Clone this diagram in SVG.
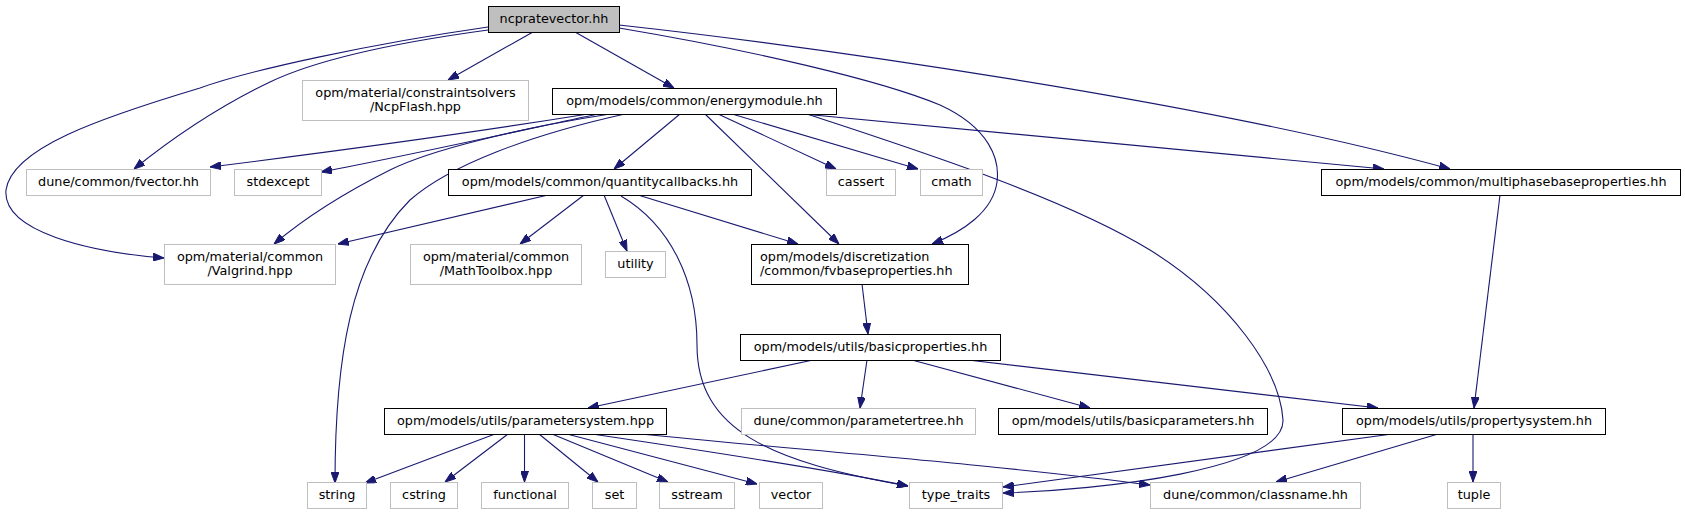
<svg xmlns="http://www.w3.org/2000/svg" width="1685" height="515" viewBox="0 0 1685 515">
<style>
rect{fill:#fff;stroke:#000;stroke-width:1}
.x rect{stroke:#bfbfbf}
.r rect{fill:#bfbfbf}
text{font-family:"DejaVu Sans","Liberation Sans",sans-serif;font-size:12.8px;text-anchor:middle;fill:#000}
text.l{text-anchor:start}
#edges path{fill:none;stroke:#191970;stroke-width:1.1;marker-end:url(#a)}
</style>
<defs>
<marker id="a" markerWidth="11" markerHeight="8" refX="11" refY="4" orient="auto" markerUnits="userSpaceOnUse"><path d="M0,0 L11,4 L0,8 z" fill="#191970" stroke="#191970" stroke-width="1"/></marker>
</defs>
<rect x="0" y="0" width="1685" height="515" style="fill:#fff;stroke:none"/>
<g id="edges">
<path d="M488,30 C400,42 320,58 270,82 C220,106 170,140 134,169"/>
<path d="M488,27 C370,44 250,70 200,88 C100,118 12,148 6,190 C2,232 90,252 164,258"/>
<path d="M533,32 L448,80"/>
<path d="M575,32 L674,88"/>
<path d="M619,28 C750,50 880,80 940,105 C990,128 1000,160 997,182 C993,212 962,232 932,244"/>
<path d="M619,25 C800,45 1200,100 1450,169"/>
<path d="M588,114 C470,133 330,152 210,167"/>
<path d="M598,114 C500,135 410,155 321,172"/>
<path d="M610,114 C520,128 430,150 390,170 C340,195 300,222 274,244"/>
<path d="M625,114 C530,135 450,165 410,200 C350,260 335,360 335,483"/>
<path d="M680,114 L614,169"/>
<path d="M705,114 L839,244"/>
<path d="M718,114 L836,169"/>
<path d="M732,114 L918,169"/>
<path d="M803,114 L1384,169"/>
<path d="M807,114 C900,145 1060,195 1150,250 C1230,300 1280,370 1283,420 C1285,470 1100,490 1003,493"/>
<path d="M548,195 L338,244"/>
<path d="M584,195 L520,244"/>
<path d="M604,195 L627,251"/>
<path d="M638,195 L798,244"/>
<path d="M621,196 C670,225 697,280 697,345 C697,430 770,462 908,486"/>
<path d="M862,284 L868,334"/>
<path d="M813,360 L588,408"/>
<path d="M867,360 L860,408"/>
<path d="M912,360 L1090,408"/>
<path d="M968,360 L1378,408"/>
<path d="M1500,195 L1474,408"/>
<path d="M495,434 L365,483"/>
<path d="M508,434 L445,482"/>
<path d="M524.5,434 L524.5,482"/>
<path d="M539,434 L598,482"/>
<path d="M552,434 L668,482"/>
<path d="M567,434 L757,484"/>
<path d="M592,434 C700,450 820,468 908,486"/>
<path d="M640,434 C800,450 1000,465 1150,485"/>
<path d="M1392,434 L1003,487"/>
<path d="M1438,434 L1276,482"/>
<path d="M1473,434 L1473,482"/>
</g>
<g id="n1" class="r"><rect x="488.5" y="6.5" width="131" height="26"/><text x="554" y="23">ncpratevector.hh</text></g>
<g id="n2" class="x"><rect x="302.5" y="80.5" width="226" height="40"/><text x="415.5" y="96.5">opm/material/constraintsolvers</text><text x="415.5" y="110.5">/NcpFlash.hpp</text></g>
<g id="n3"><rect x="552.5" y="88.5" width="284" height="26"/><text x="694.5" y="105">opm/models/common/energymodule.hh</text></g>
<g id="n4" class="x"><rect x="26.5" y="169.5" width="184" height="26"/><text x="118.5" y="186">dune/common/fvector.hh</text></g>
<g id="n5" class="x"><rect x="234.5" y="169.5" width="87" height="26"/><text x="278" y="186">stdexcept</text></g>
<g id="n6"><rect x="448.5" y="169.5" width="303" height="26"/><text x="600" y="186">opm/models/common/quantitycallbacks.hh</text></g>
<g id="n7" class="x"><rect x="826.5" y="169.5" width="69" height="26"/><text x="861" y="186">cassert</text></g>
<g id="n8" class="x"><rect x="920.5" y="169.5" width="62" height="26"/><text x="951.5" y="186">cmath</text></g>
<g id="n9"><rect x="1321.5" y="169.5" width="359" height="26"/><text x="1501" y="186">opm/models/common/multiphasebaseproperties.hh</text></g>
<g id="n10" class="x"><rect x="164.5" y="244.5" width="171" height="40"/><text x="250" y="260.5">opm/material/common</text><text x="250" y="274.5">/Valgrind.hpp</text></g>
<g id="n11" class="x"><rect x="410.5" y="244.5" width="171" height="40"/><text x="496" y="260.5">opm/material/common</text><text x="496" y="274.5">/MathToolbox.hpp</text></g>
<g id="n12" class="x"><rect x="605.5" y="251.5" width="60" height="26"/><text x="635.5" y="268">utility</text></g>
<g id="n13"><rect x="751.5" y="244.5" width="217" height="40"/><text class="l" x="760" y="260.5">opm/models/discretization</text><text class="l" x="760" y="274.5">/common/fvbaseproperties.hh</text></g>
<g id="n14"><rect x="740.5" y="334.5" width="260" height="26"/><text x="870.5" y="351">opm/models/utils/basicproperties.hh</text></g>
<g id="n15"><rect x="384.5" y="408.5" width="282" height="26"/><text x="525.5" y="425">opm/models/utils/parametersystem.hpp</text></g>
<g id="n16" class="x"><rect x="741.5" y="408.5" width="234" height="26"/><text x="858.5" y="425">dune/common/parametertree.hh</text></g>
<g id="n17"><rect x="998.5" y="408.5" width="269" height="26"/><text x="1133" y="425">opm/models/utils/basicparameters.hh</text></g>
<g id="n18"><rect x="1342.5" y="408.5" width="263" height="26"/><text x="1474" y="425">opm/models/utils/propertysystem.hh</text></g>
<g id="n19" class="x"><rect x="307.5" y="482.5" width="59" height="26"/><text x="337" y="499">string</text></g>
<g id="n20" class="x"><rect x="390.5" y="482.5" width="67" height="26"/><text x="424" y="499">cstring</text></g>
<g id="n21" class="x"><rect x="481.5" y="482.5" width="87" height="26"/><text x="525" y="499">functional</text></g>
<g id="n22" class="x"><rect x="592.5" y="482.5" width="44" height="26"/><text x="614.5" y="499">set</text></g>
<g id="n23" class="x"><rect x="659.5" y="482.5" width="75" height="26"/><text x="697" y="499">sstream</text></g>
<g id="n24" class="x"><rect x="759.5" y="482.5" width="63" height="26"/><text x="791" y="499">vector</text></g>
<g id="n25" class="x"><rect x="909.5" y="482.5" width="93" height="26"/><text x="956" y="499">type_traits</text></g>
<g id="n26" class="x"><rect x="1150.5" y="482.5" width="210" height="26"/><text x="1255.5" y="499">dune/common/classname.hh</text></g>
<g id="n27" class="x"><rect x="1447.5" y="482.5" width="53" height="26"/><text x="1474" y="499">tuple</text></g>
</svg>
